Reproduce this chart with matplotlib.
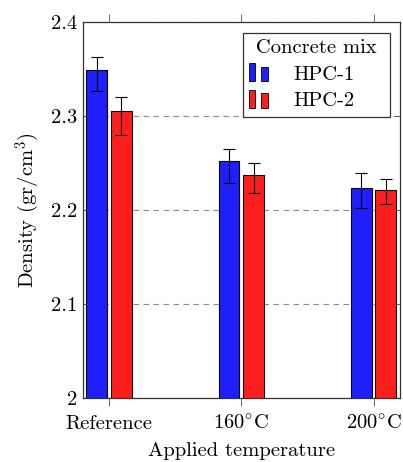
import matplotlib as mpl

mpl.use("Agg")

import matplotlib.pyplot as plt
import numpy as np
from matplotlib.container import BarContainer
from matplotlib.legend_handler import HandlerBase
from matplotlib.patches import Rectangle

mpl.rcParams.update(
    {
        "font.family": "serif",
        "font.serif": ["cmr10", "DejaVu Serif"],
        "mathtext.fontset": "cm",
        "axes.formatter.use_mathtext": True,
        "font.size": 14.8,
    }
)

# data
categories = ["Reference", "160$^{\\circ}$C", "200$^{\\circ}$C"]
series = ["HPC-1", "HPC-2"]
hpc1 = [2.349, 2.252, 2.224]
hpc2 = [2.305, 2.237, 2.221]
hpc1_err_lo = [0.022, 0.023, 0.022]
hpc1_err_hi = [0.014, 0.013, 0.016]
hpc2_err_lo = [0.025, 0.019, 0.014]
hpc2_err_hi = [0.015, 0.013, 0.012]

BLUE = "#1e1eff"
RED = "#ff1e1e"


class BarPairHandler(HandlerBase):
    """pgfplots-style ybar legend image: two little bars side by side."""

    def create_artists(self, legend, orig_handle, xdescent, ydescent,
                       width, height, fontsize, trans):
        fc = orig_handle.patches[0].get_facecolor()
        w = width * 0.32
        y0 = -ydescent - 0.1 * height
        r1 = Rectangle((-xdescent, y0), w, height * 1.25,
                       facecolor=fc, edgecolor="black", linewidth=0.6,
                       transform=trans)
        r2 = Rectangle((-xdescent + width * 0.64, y0), w * 1.1, height * 1.0,
                       facecolor=fc, edgecolor="black", linewidth=0.6,
                       transform=trans)
        return [r1, r2]


fig = plt.figure(figsize=(4.03, 4.62), dpi=100)
ax = fig.add_axes([0.205, 0.1385, 0.7876, 0.8135])

x = np.arange(len(categories))
bw = 0.158
off = 0.093

ax.yaxis.grid(True, linestyle=(0, (5, 4)), color="#8c8c8c", linewidth=0.8)
ax.set_axisbelow(True)

b1 = ax.bar(x - off, hpc1, bw, color=BLUE, edgecolor="black", linewidth=0.8,
            label=series[0], zorder=2)
b2 = ax.bar(x + off, hpc2, bw, color=RED, edgecolor="black", linewidth=0.8,
            label=series[1], zorder=2)
ax.errorbar(x - off, hpc1, yerr=[hpc1_err_lo, hpc1_err_hi], fmt="none",
            ecolor="black", elinewidth=0.8, capsize=4.5, capthick=0.8, zorder=3)
ax.errorbar(x + off, hpc2, yerr=[hpc2_err_lo, hpc2_err_hi], fmt="none",
            ecolor="black", elinewidth=0.8, capsize=4.5, capthick=0.8, zorder=3)

ax.set_xlim(-0.2, 2.2)
ax.set_ylim(2.0, 2.4)
ax.set_yticks([2.0, 2.1, 2.2, 2.3, 2.4])
ax.set_yticklabels(["2", "2.1", "2.2", "2.3", "2.4"])
ax.set_xticks(x)
ax.set_xticklabels(categories)

ax.tick_params(axis="x", direction="out", top=True, length=6, width=0.6,
               color="#555555", pad=6)
ax.tick_params(axis="y", direction="in", right=True, length=4, width=0.6,
               color="#555555", pad=4)
for s in ax.spines.values():
    s.set_linewidth(0.9)
    s.set_color("#333333")

ax.set_xlabel("Applied temperature", labelpad=6)
ax.set_ylabel("Density (gr/cm$^3$)", labelpad=6)

leg = ax.legend(
    handles=[b1, b2],
    labels=series,
    title=" Concrete mix ",
    alignment="left",
    handler_map={BarContainer: BarPairHandler()},
    loc="upper right",
    bbox_to_anchor=(0.9685, 0.971),
    fancybox=False,
    framealpha=1,
    edgecolor="#333333",
    handlelength=0.92,
    handletextpad=1.2,
    labelspacing=0.4,
    borderpad=0.3,
    borderaxespad=0,
)
leg.get_frame().set_linewidth(0.9)

fig.savefig("out.png", dpi=100, facecolor="white")
